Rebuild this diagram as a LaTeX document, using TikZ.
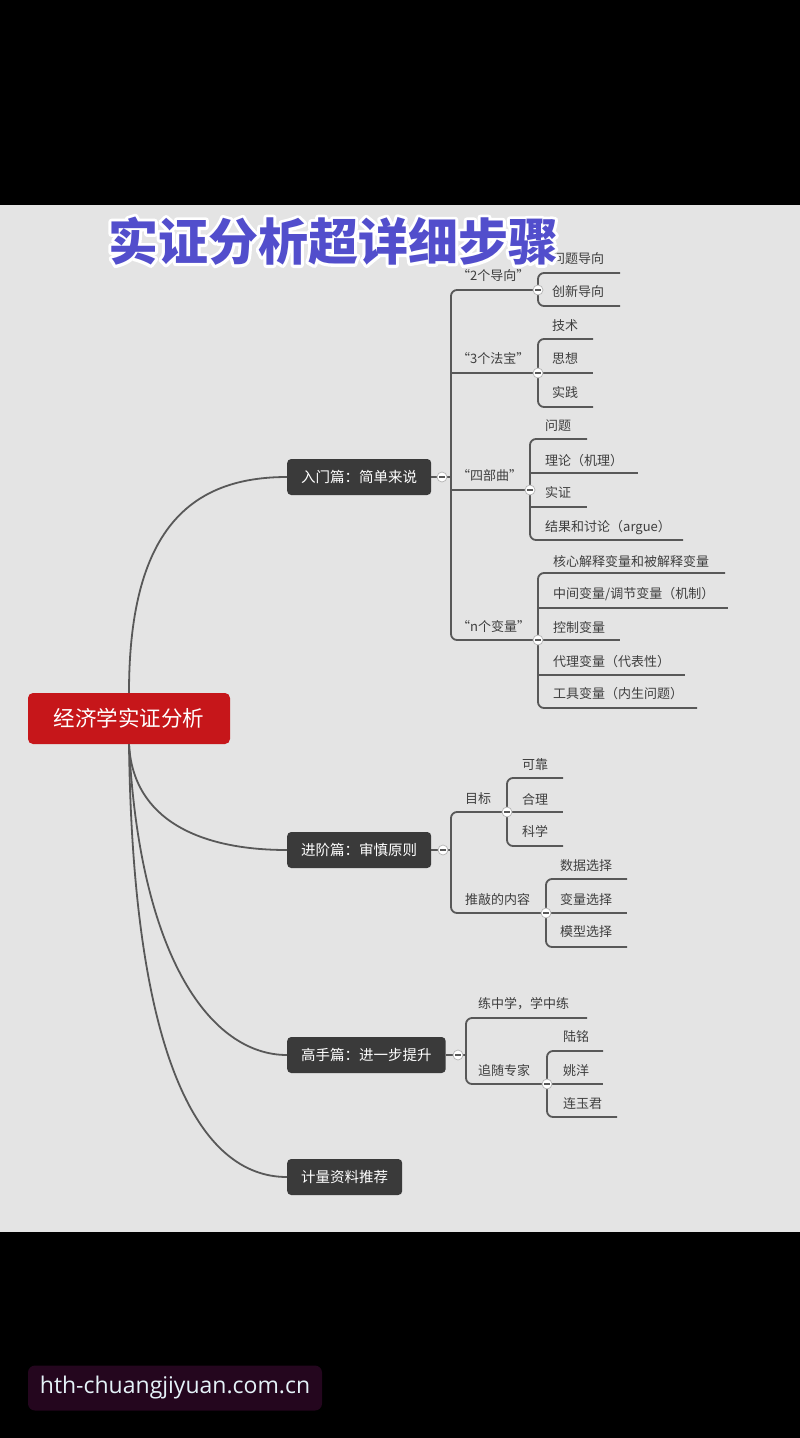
\documentclass[tikz,border=0pt]{standalone}
\usepackage{fontspec}
\setmainfont{Noto Sans CJK SC}
\newfontfamily\wmfont{Open Sans}
\definecolor{bgc}{RGB}{228,228,228}
\definecolor{linec}{RGB}{88,88,88}
\definecolor{txtc}{RGB}{62,62,62}
\definecolor{boxc}{RGB}{58,58,58}
\definecolor{rootc}{RGB}{198,22,26}
\definecolor{titlec}{RGB}{82,78,204}
\definecolor{wmbg}{RGB}{36,6,30}
\definecolor{wmtxt}{RGB}{228,242,248}
\newcommand\mmdot[2]{\node[dot] (#1) at (#2) {}; \draw[line width=1.1pt, draw=linec] ([xshift=-2.6pt]#1.center) -- ([xshift=2.6pt]#1.center);}
\begin{document}
\begin{tikzpicture}[x=1pt,y=-1pt,
  lbl/.style={anchor=west, inner sep=0pt, text=txtc, font=\fontsize{13}{15}\selectfont, text height=10pt, text depth=3pt},
  lnk/.style={draw=linec, line width=1.8pt},
  brk/.style={draw=linec, line width=1.8pt, rounded corners=6pt},
  dot/.style={circle, draw=linec!45, fill=white, minimum size=10pt, inner sep=0pt, line width=0.7pt},
  l1/.style={rounded corners=4pt, fill=boxc, text=white, font=\fontsize{14.5}{16}\selectfont, minimum height=36pt, inner xsep=14pt, anchor=west},
  rootbox/.style={rounded corners=5pt, fill=rootc, text=white, font=\fontsize{21.5}{24}\selectfont, minimum width=202pt, minimum height=51pt},
  ttl/.style={font=\fontsize{50}{52}\selectfont\bfseries, inner sep=0pt},
  wm/.style={rounded corners=7pt, fill=wmbg, text=wmtxt, font=\wmfont\fontsize{23}{26}\selectfont, minimum width=294pt, minimum height=45pt}
]
\useasboundingbox (0,0) rectangle (800,1438);
\fill[black] (0,0) rectangle (800,1438);
\fill[bgc] (0,205) rectangle (800,1232);

% root and level-1 boxes
\node[rootbox] (root) at (129,718.5) {经济学实证分析};
\node[l1] (b1) at (287,477) {入门篇：简单来说};
\node[l1] (b2) at (287,850) {进阶篇：审慎原则};
\node[l1] (b3) at (287,1055) {高手篇：进一步提升};
\node[l1] (b4) at (287,1177) {计量资料推荐};

% root connectors
\draw[lnk] (root.north) .. controls (129,530) and (190,477) .. (b1.west);
\draw[lnk] (root.south) .. controls (133,820) and (200,850) .. (b2.west);
\draw[lnk] (root.south) .. controls (140,960) and (212,1055) .. (b3.west);
\draw[lnk] (root.south) .. controls (133,1060) and (200,1177) .. (b4.west);

% ---------- 入门篇 ----------
\coordinate (j1) at (442,477);
\coordinate (j11) at (538,290);
\coordinate (j12) at (538,373);
\coordinate (j13) at (530,490);
\coordinate (j14) at (538,640);
\draw[lnk] (b1.east) -- (j1) -- (451,477);
\draw[brk] (j11) -- (451,290) -- (451,640) -- (j14);
\draw[lnk] (451,373) -- (j12);
\draw[lnk] (451,490) -- (j13);

\node[lbl] (n11) at (457,277) {“2个导向”};
\node[lbl] (n12) at (457,360) {“3个法宝”};
\node[lbl] (n13) at (457,477) {“四部曲”};
\node[lbl] (n14) at (457,628) {“n个变量”};

% 2个导向
\draw[brk] (620,273) -- (538,273) -- (538,306) -- (620,306);
\node[lbl] (a1) at (552,260) {问题导向};
\node[lbl] (a2) at (552,293) {创新导向};
% 3个法宝
\draw[brk] (593,339) -- (538,339) -- (538,407) -- (593,407);
\draw[lnk] (j12) -- (593,373);
\node[lbl] (c1) at (552,327) {技术};
\node[lbl] (c2) at (552,360) {思想};
\node[lbl] (c3) at (552,394) {实践};
% 四部曲
\draw[brk] (587,439) -- (530,439) -- (530,540) -- (683,540);
\draw[lnk] (530,473) -- (638,473);
\draw[lnk] (530,507) -- (587,507);
\node[lbl] (e1) at (545,427) {问题};
\node[lbl] (e2) at (545,462) {理论（机理）};
\node[lbl] (e3) at (545,494) {实证};
\node[lbl] (e4) at (545,528) {结果和讨论（argue）};
% n个变量
\draw[brk] (725,573) -- (538,573) -- (538,708) -- (697,708);
\draw[lnk] (538,608) -- (728,608);
\draw[lnk] (j14) -- (620,640);
\draw[lnk] (538,675) -- (685,675);
\node[lbl] (v1) at (553,563) {核心解释变量和被解释变量};
\node[lbl] (v2) at (553,595) {中间变量/调节变量（机制）};
\node[lbl] (v3) at (553,629) {控制变量};
\node[lbl] (v4) at (553,663) {代理变量（代表性）};
\node[lbl] (v5) at (553,695) {工具变量（内生问题）};

% ---------- 进阶篇 ----------
\coordinate (j2) at (443,850);
\coordinate (j21) at (507,812);
\coordinate (j22) at (546,913);
\draw[lnk] (b2.east) -- (j2) -- (451,850);
\draw[brk] (j21) -- (451,812) -- (451,913) -- (j22);
\node[lbl] (g1) at (465,800) {目标};
\node[lbl] (g2) at (465,901) {推敲的内容};
\draw[brk] (563,778) -- (507,778) -- (507,846) -- (563,846);
\draw[lnk] (j21) -- (563,812);
\node[lbl] (h1) at (522,766) {可靠};
\node[lbl] (h2) at (522,801) {合理};
\node[lbl] (h3) at (522,833) {科学};
\draw[brk] (627,879) -- (546,879) -- (546,947) -- (627,947);
\draw[lnk] (j22) -- (627,913);
\node[lbl] (k1) at (560,867) {数据选择};
\node[lbl] (k2) at (560,901) {变量选择};
\node[lbl] (k3) at (560,933) {模型选择};

% ---------- 高手篇 ----------
\coordinate (j3) at (458,1055);
\coordinate (j31) at (587,1018);
\coordinate (j32) at (547,1084);
\draw[lnk] (b3.east) -- (j3) -- (466,1055);
\draw[brk] (j31) -- (466,1018) -- (466,1084) -- (j32);
\node[lbl] (p1) at (478,1005) {练中学，学中练};
\node[lbl] (p2) at (478,1072) {追随专家};
\draw[brk] (603,1051) -- (547,1051) -- (547,1117) -- (617,1117);
\draw[lnk] (j32) -- (603,1084);
\node[lbl] (q1) at (563,1038) {陆铭};
\node[lbl] (q2) at (563,1072) {姚洋};
\node[lbl] (q3) at (563,1105) {连玉君};

% collapse markers
\mmdot{d1}{j1}
\mmdot{d11}{j11}
\mmdot{d12}{j12}
\mmdot{d13}{j13}
\mmdot{d14}{j14}
\mmdot{d2}{j2}
\mmdot{d21}{j21}
\mmdot{d22}{j22}
\mmdot{d3}{j3}
\mmdot{d32}{j32}

% title with white outline (stroked copy underneath)
\node[ttl, text=white] (halo) at (333,241) {\special{pdf:literal 1 Tr 6 w 1 J 1 j}实证分析超详细步骤\special{pdf:literal 0 Tr 1 w}};
\node[ttl, text=titlec] (title) at (333,241) {实证分析超详细步骤};

% watermark
\node[wm] (wmark) at (175,1388) {hth-chuangjiyuan.com.cn};
\end{tikzpicture}
\end{document}
